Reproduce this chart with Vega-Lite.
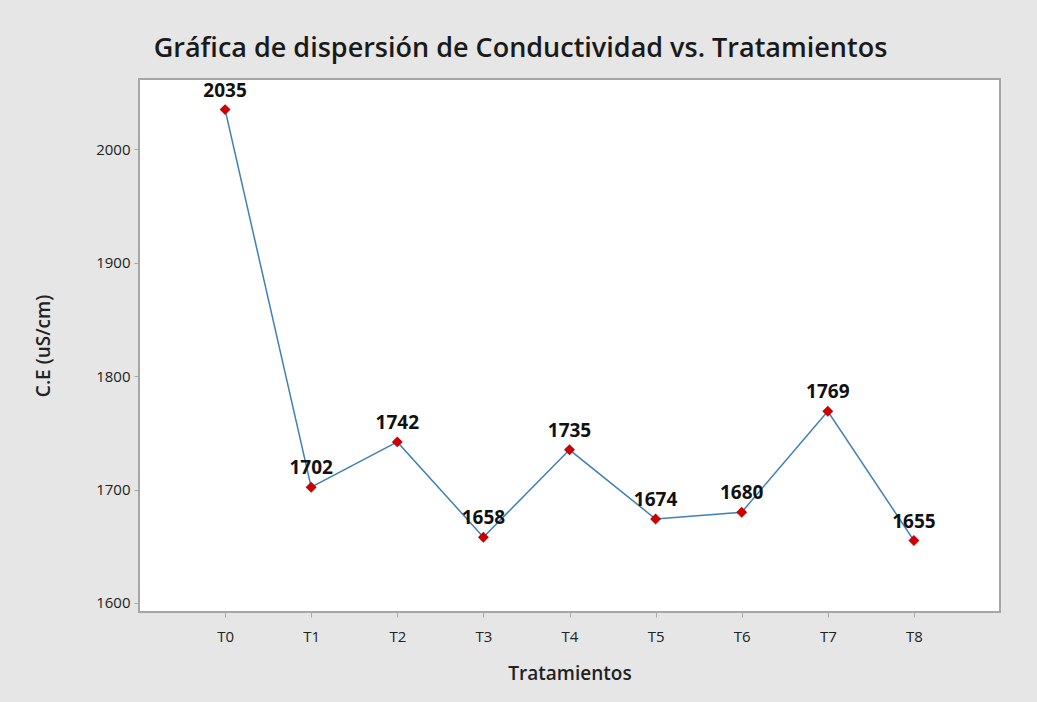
{
  "$schema": "https://vega.github.io/schema/vega-lite/v6.json",
  "autosize": {"type": "none"},
  "width": 861,
  "height": 533,
  "padding": {"left": 139, "top": 79, "right": 37, "bottom": 90},
  "background": "#e6e6e6",
  "title": {
    "text": "Gráfica de dispersión de Conductividad vs. Tratamientos",
    "font": "Open Sans",
    "fontSize": 27,
    "fontWeight": 600,
    "color": "#1a1a1a",
    "anchor": "middle",
    "offset": 16,
    "dx": -49
  },
  "config": {
    "view": {"fill": "white", "stroke": "#a6a6a6", "strokeWidth": 2},
    "axis": {
      "labelFont": "Open Sans",
      "labelFontSize": 15,
      "labelColor": "#222222",
      "titleFont": "Open Sans",
      "titleFontSize": 19,
      "titleFontWeight": 600,
      "titleColor": "#222222",
      "domain": false,
      "grid": false,
      "tickColor": "#a6a6a6",
      "tickSize": 5
    }
  },
  "data": {
    "values": [
      {"t": "T0", "ce": 2035},
      {"t": "T1", "ce": 1702},
      {"t": "T2", "ce": 1742},
      {"t": "T3", "ce": 1658},
      {"t": "T4", "ce": 1735},
      {"t": "T5", "ce": 1674},
      {"t": "T6", "ce": 1680},
      {"t": "T7", "ce": 1769},
      {"t": "T8", "ce": 1655}
    ]
  },
  "encoding": {
    "x": {
      "field": "t",
      "type": "ordinal",
      "scale": {"type": "point", "padding": 1},
      "axis": {"labelAngle": 0, "title": "Tratamientos", "titlePadding": 20, "labelPadding": 12}
    },
    "y": {
      "field": "ce",
      "type": "quantitative",
      "scale": {"domain": [1592, 2062], "nice": false, "zero": false},
      "axis": {"values": [1600, 1700, 1800, 1900, 2000], "format": "d", "title": "C.E (uS/cm)", "titlePadding": 42, "labelPadding": 4}
    }
  },
  "layer": [
    {"mark": {"type": "line", "color": "#3f7fba", "strokeWidth": 1.5}},
    {"mark": {"type": "point", "shape": "diamond", "filled": true, "color": "#cc0000", "size": 120, "opacity": 1}},
    {
      "mark": {"type": "text", "dy": -19, "font": "Open Sans", "fontSize": 19, "fontWeight": 700, "color": "#111111"},
      "encoding": {"text": {"field": "ce", "type": "quantitative", "format": "d"}}
    }
  ]
}
